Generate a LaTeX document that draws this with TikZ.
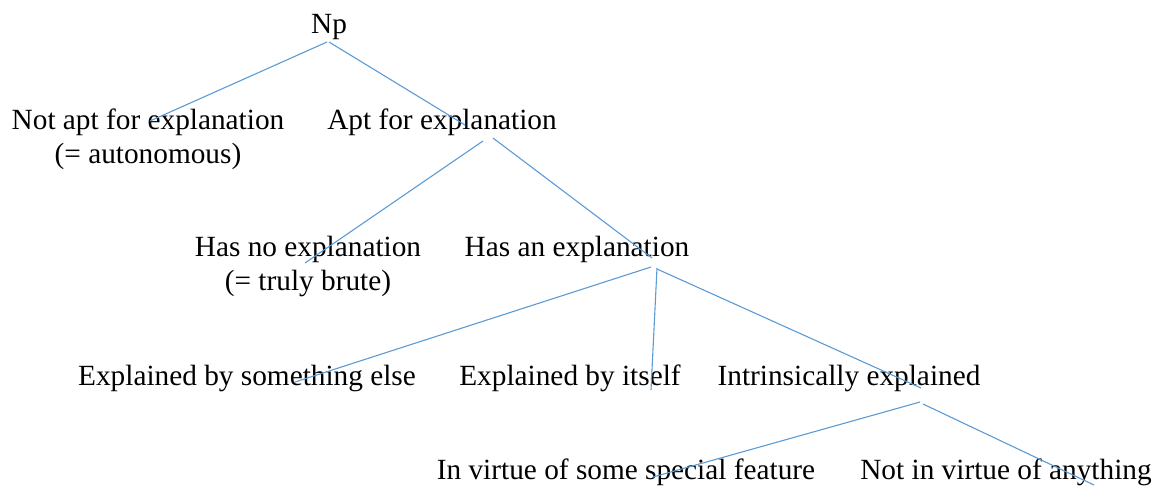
\documentclass[tikz,border=0pt]{standalone}
\usepackage{fontspec}
\setmainfont{Liberation Serif}
\definecolor{lineblue}{RGB}{91,155,213}
\begin{document}
\begin{tikzpicture}[x=1pt,y=-1pt,
  lbl/.style={inner sep=0pt, anchor=base, align=center,
    font=\fontsize{29.3}{34}\selectfont},
  conn/.style={draw=lineblue, line width=1.1pt}]
\useasboundingbox (0,0) rectangle (1152,485);
% nodes (two-line nodes are placed by the baseline of their last line)
\node[lbl] (np) at (329,33) {Np};
\node[lbl] (notapt) at (148,163) {Not apt for explanation\\(= autonomous)};
\node[lbl] (apt) at (442,129) {Apt for explanation};
\node[lbl] (hasno) at (308,290) {Has no explanation\\(= truly brute)};
\node[lbl] (hasan) at (577,256) {Has an explanation};
\node[lbl] (else) at (247,385) {Explained by something else};
\node[lbl] (itself) at (570,385) {Explained by itself};
\node[lbl] (intr) at (849,385) {Intrinsically explained};
\node[lbl] (special) at (626,479) {In virtue of some special feature};
\node[lbl] (nothing) at (1006,479) {Not in virtue of anything};
% connector end points
\coordinate (np-l) at (327,42);
\coordinate (np-r) at (329,42);
\coordinate (notapt-t) at (150,121);
\coordinate (apt-t) at (465,125);
\coordinate (apt-l) at (483,141);
\coordinate (apt-r) at (493,138);
\coordinate (hasno-t) at (305,263);
\coordinate (hasan-t) at (652,258);
\coordinate (hasan-l) at (651,267);
\coordinate (hasan-m) at (657,268);
\coordinate (hasan-r) at (657,269);
\coordinate (else-t) at (295,382);
\coordinate (itself-t) at (651,390);
\coordinate (intr-t) at (921,388);
\coordinate (intr-l) at (920,402);
\coordinate (intr-r) at (923,404);
\coordinate (special-t) at (653,477);
\coordinate (nothing-t) at (1094,485);
% connectors
\draw[conn] (np-l) -- (notapt-t);
\draw[conn] (np-r) -- (apt-t);
\draw[conn] (apt-l) -- (hasno-t);
\draw[conn] (apt-r) -- (hasan-t);
\draw[conn] (hasan-l) -- (else-t);
\draw[conn] (hasan-m) -- (itself-t);
\draw[conn] (hasan-r) -- (intr-t);
\draw[conn] (intr-l) -- (special-t);
\draw[conn] (intr-r) -- (nothing-t);
\end{tikzpicture}
\end{document}
